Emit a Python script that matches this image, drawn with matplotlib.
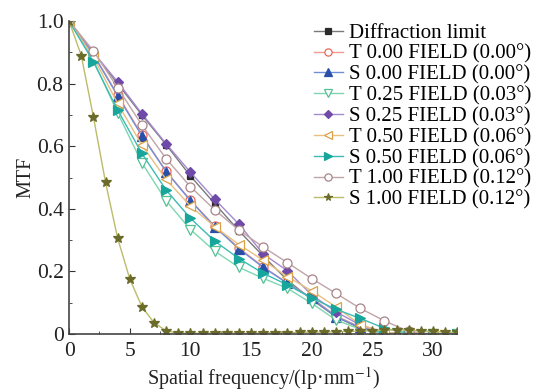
import matplotlib
matplotlib.use('Agg')
import matplotlib.pyplot as plt
from matplotlib.ticker import MultipleLocator

plt.rcParams['font.family'] = ['Liberation Serif', 'DejaVu Serif']
plt.rcParams['mathtext.fontset'] = 'stix'

# ── data ───────────────────────────────────────────────────────────────────
freq = [0, 2, 4, 6, 8, 10, 12, 14, 16, 18, 20, 22, 24, 26, 28, 30, 32]
freq_s100 = list(range(0, 33))

diff_limit = [1.0, 0.90, 0.80, 0.70, 0.605, 0.505, 0.417, 0.33, 0.249, 0.172,
              0.11, 0.055, 0.018, 0.0, 0.0, 0.0, 0.0]
t000 = [1.0, 0.895, 0.765, 0.636, 0.52, 0.428, 0.345, 0.275, 0.215, 0.163,
        0.115, 0.058, 0.022, 0.004, 0.0, 0.0, 0.0]
s000 = [1.0, 0.893, 0.761, 0.633, 0.519, 0.426, 0.343, 0.272, 0.213, 0.162,
        0.114, 0.055, 0.021, 0.003, 0.0, 0.0, 0.003]
t025 = [1.0, 0.875, 0.707, 0.547, 0.426, 0.334, 0.265, 0.213, 0.178, 0.146,
        0.098, 0.045, 0.015, 0.002, 0.0, 0.0, 0.0]
s025 = [1.0, 0.90, 0.806, 0.704, 0.608, 0.517, 0.431, 0.351, 0.256, 0.202,
        0.125, 0.071, 0.029, 0.005, 0.0, 0.0, 0.0]
t050 = [1.0, 0.885, 0.737, 0.604, 0.494, 0.409, 0.343, 0.286, 0.236, 0.183,
        0.138, 0.087, 0.03, 0.005, 0.0, 0.0, 0.0]
s050 = [1.0, 0.87, 0.716, 0.577, 0.46, 0.37, 0.297, 0.241, 0.194, 0.157,
        0.115, 0.079, 0.05, 0.018, 0.002, 0.0, 0.0]
t100 = [1.0, 0.905, 0.787, 0.668, 0.56, 0.471, 0.397, 0.332, 0.278, 0.228,
        0.177, 0.13, 0.082, 0.042, 0.008, 0.0, 0.0]
s100 = [1.0, 0.89, 0.694, 0.485, 0.306, 0.176, 0.087, 0.036, 0.01, 0.003,
        0.002, 0.002, 0.003, 0.003, 0.002, 0.002, 0.003, 0.003, 0.004, 0.005,
        0.006, 0.006, 0.007, 0.008, 0.009, 0.011, 0.012, 0.013, 0.012, 0.01,
        0.008, 0.006, 0.005]

labels = ['Diffraction limit',
          'T 0.00 FIELD (0.00°)', 'S 0.00 FIELD (0.00°)',
          'T 0.25 FIELD (0.03°)', 'S 0.25 FIELD (0.03°)',
          'T 0.50 FIELD (0.06°)', 'S 0.50 FIELD (0.06°)',
          'T 1.00 FIELD (0.12°)', 'S 1.00 FIELD (0.12°)']

# (x, y, line colour, marker colour, marker, filled)
series = [
    (freq, diff_limit, '#7a7a7a', '#2b2b2b', 's', True),
    (freq, t000, '#f09a90', '#e8675c', 'o', False),
    (freq, s000, '#6f8fd8', '#2a4fa8', '^', True),
    (freq, t025, '#7ed6b0', '#55c095', 'v', False),
    (freq, s025, '#a48ad0', '#6f4aa8', 'D', True),
    (freq, t050, '#e8c080', '#d9a24a', '<', False),
    (freq, s050, '#3cbcb4', '#18a59c', '>', True),
    (freq, t100, '#c0a4a8', '#a88488', 'o', False),
    (freq_s100, s100, '#bcbc6a', '#6b6b2a', '*', True),
]

fig = plt.figure(figsize=(5.36, 3.92), dpi=100)
ax = fig.add_axes([0.129, 0.148, 0.724, 0.798])

for (x, y, lc, mc, mk, filled), lab in zip(series, labels):
    ms = {'D': 5.5, '*': 7, 's': 5}.get(mk, 6.5)
    ax.plot(x, y, '-', color=lc, lw=1.0, marker=mk, ms=ms,
            markeredgecolor=mc, markerfacecolor=mc if filled else 'white',
            markeredgewidth=0.9, label=lab)

ax.set_xlim(0, 32)
ax.set_ylim(0, 1.0)
ax.xaxis.set_major_locator(MultipleLocator(5))
ax.xaxis.set_minor_locator(MultipleLocator(2.5))
ax.yaxis.set_minor_locator(MultipleLocator(0.1))
ax.set_yticks([0, 0.2, 0.4, 0.6, 0.8, 1.0])
ax.set_yticklabels(['0', '0.2', '0.4', '0.6', '0.8', '1.0'])
ax.tick_params(which='both', direction='in', labelsize=15.5, colors='#333333',
               labelcolor='#222222')
ax.tick_params(which='major', length=4)
ax.tick_params(which='minor', length=2.5)
ax.tick_params(axis='x', which='major', pad=6)
ax.tick_params(axis='y', which='major', pad=4)
for side in ('top', 'right'):
    ax.spines[side].set_visible(False)
for side in ('left', 'bottom'):
    ax.spines[side].set_color('#444444')
    ax.spines[side].set_linewidth(1.2)

ax.set_xlabel('Spatial frequency/(lp·mm$^{-1}$)', fontsize=14.5, labelpad=3,
              color='#222222')
ax.set_ylabel('MTF', fontsize=14.5, labelpad=1, color='#222222')

ax.legend(loc='upper left', bbox_to_anchor=(0.585, 0.94),
          bbox_transform=fig.transFigure, frameon=False,
          fontsize=15, handlelength=1.4, handletextpad=0.3,
          labelspacing=0.06, borderaxespad=0, borderpad=0, markerscale=0.8)

fig.savefig('out.png', dpi=100)
